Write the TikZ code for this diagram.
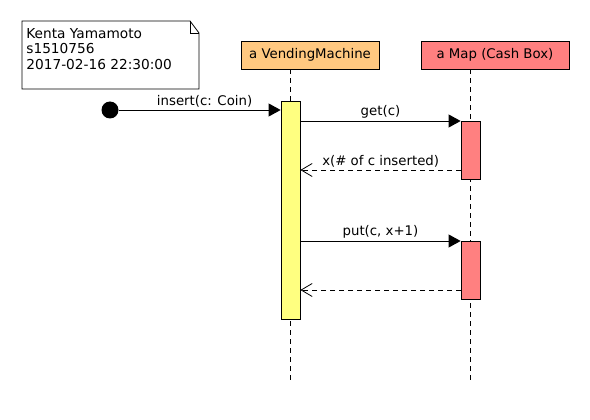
\documentclass[tikz,border=0pt]{standalone}
\usepackage{fontspec}
\setmainfont{DejaVu Sans}
\usetikzlibrary{arrows.meta}
\definecolor{headorange}{HTML}{FFC880}
\definecolor{mapred}{HTML}{FF8080}
\definecolor{actyellow}{HTML}{FFFF80}
\begin{document}
\begin{tikzpicture}[x=1pt,y=-1pt,line width=0.8pt,
  every node/.style={font=\fontsize{13.3}{15}\selectfont},
  head/.style={draw,rectangle,minimum height=28pt,inner sep=0pt},
  act/.style={draw,rectangle,minimum width=19pt,inner sep=0pt,anchor=north},
  lifeline/.style={dash pattern=on 5pt off 4pt},
  call/.style={-{Triangle[length=12pt,width=13pt]}},
  reply/.style={dash pattern=on 5pt off 4pt,-{Straight Barb[length=11pt,width=13pt]}},
  msg/.style={above,inner sep=2pt}]
\useasboundingbox (0,0) rectangle (590,420);

% note
\draw (22,21)--(190,21)--(199,33)--(199,89)--(22,89)--cycle;
\draw (190,21)--(190,33)--(199,33);
\node[anchor=north west,align=left,inner sep=2pt,font=\fontsize{13.7}{15.5}\selectfont] (author) at (24,26) {Kenta Yamamoto\\s1510756\\2017-02-16 22:30:00};

% heads and lifelines
\node[head,fill=headorange,minimum width=138pt] (vm) at (310,55) {a VendingMachine};
\node[head,fill=mapred,minimum width=148pt] (map) at (495,55) {a Map (Cash Box)};
\coordinate (vmend) at (290.5,380);
\coordinate (mapend) at (470.5,380);
\draw[lifeline] (vm.south -| vmend) -- (vmend);
\draw[lifeline] (map.south -| mapend) -- (mapend);

% activations
\node[act,fill=actyellow,minimum height=218pt] (vmact) at (290.5,101) {};
\node[act,fill=mapred,minimum height=58pt] (getact) at (470.5,121) {};
\node[act,fill=mapred,minimum height=58pt] (putact) at (470.5,241) {};

% messages
\node[circle,fill,inner sep=0pt,minimum size=17pt] (start) at (110,110) {};
\draw[call] (start) -- (start -| vmact.west) node[msg,pos=0.53] {insert(c: Coin)};
\draw[call] (vmact.east |- getact.north) -- (getact.north west) node[msg,midway] {get(c)};
\coordinate (ret1) at (461,170);
\draw[reply] (ret1) -- (ret1 -| vmact.east) node[msg,midway] {x(\# of c inserted)};
\draw[call] (vmact.east |- putact.north) -- (putact.north west) node[msg,midway] {put(c, x+1)};
\coordinate (ret2) at (461,290);
\draw[reply] (ret2) -- (ret2 -| vmact.east);
\end{tikzpicture}
\end{document}
